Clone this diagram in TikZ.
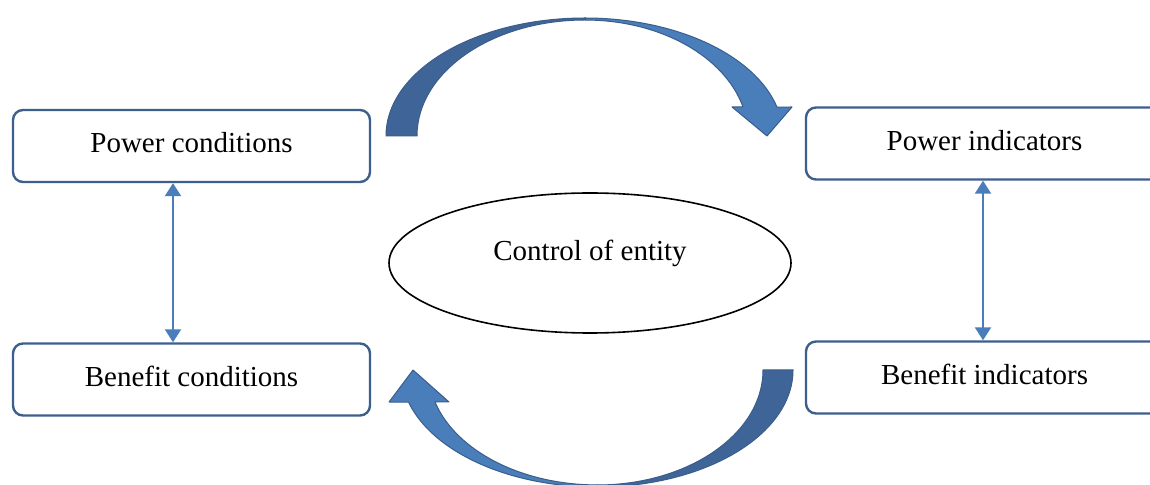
\documentclass[tikz,border=0pt]{standalone}
\usepackage{fontspec}
\setmainfont{Liberation Serif}
\usetikzlibrary{arrows.meta,shapes.geometric}
\definecolor{boxline}{HTML}{3C5F8C}
\definecolor{conncol}{HTML}{4A7EBB}
\definecolor{arrdark}{HTML}{3F6598}
\definecolor{arrlight}{HTML}{4A7EBB}
\definecolor{arredge}{HTML}{3A5D8A}
\tikzset{
  txt/.style={font=\fontsize{14.5}{17}\selectfont, text=black},
  cbox/.style={txt, draw=boxline, line width=1.2pt, rounded corners=5pt, minimum width=178.5pt, minimum height=36pt, inner sep=0pt, text height=10pt, text depth=3.2pt},
  ent/.style={draw=black, line width=0.8pt, ellipse, minimum width=201pt, minimum height=70pt, inner sep=0pt},
  conn/.style={draw=conncol, line width=1.1pt, {Triangle[length=6.5pt,width=8pt]}-{Triangle[length=6.5pt,width=8pt]}},
  bandd/.style={fill=arrdark, draw=arredge, line width=0.5pt},
  bandl/.style={fill=arrlight, draw=arredge, line width=0.5pt, line join=round}
}
\begin{document}
\begin{tikzpicture}[x=0.5pt,y=-0.5pt]
\clip (0,0) rectangle (1150,485);
\fill[white] (0,0) rectangle (1150,485);
% boxes
\node[cbox] (pc) at (191.5,146) {Power conditions};
\node[cbox] (bc) at (191.5,379.5) {Benefit conditions};
\node[cbox] (pi) at (984.5,143.5) {Power indicators};
\node[cbox] (bi) at (984.5,377.5) {Benefit indicators};
% central ellipse
\node[ent] (en) at (590,263) {};
\node[txt] (enl) at (590,253) {Control of entity};
% vertical connectors
\coordinate (la) at (173,0);
\coordinate (ra) at (983,0);
\draw[conn] (pc.south -| la) -- (bc.north -| la);
\draw[conn] (pi.south -| ra) -- (bi.north -| ra);
% top curved arrow
\filldraw[bandd] (386,136) arc[start angle=180,end angle=270,x radius=199,y radius=118]
  -- (585,20) arc[start angle=270,end angle=180,x radius=168,y radius=116] -- cycle;
\filldraw[bandl] (585,18) arc[start angle=270,end angle=345.8,x radius=198,y radius=118]
  -- (792,107) -- (767,136) -- (732,107) -- (743,107)
  arc[start angle=345.5,end angle=270,x radius=163,y radius=116] -- cycle;
% bottom curved arrow
\filldraw[bandd] (793,370) arc[start angle=0,end angle=90,x radius=196,y radius=117]
  -- (597,485) arc[start angle=90,end angle=0,x radius=166,y radius=115] -- cycle;
\filldraw[bandl] (597,487) arc[start angle=90,end angle=164.1,x radius=196,y radius=117]
  -- (389,402) -- (413,370) -- (449,402) -- (435,402)
  arc[start angle=163.8,end angle=90,x radius=168.7,y radius=115] -- cycle;
\end{tikzpicture}
\end{document}
